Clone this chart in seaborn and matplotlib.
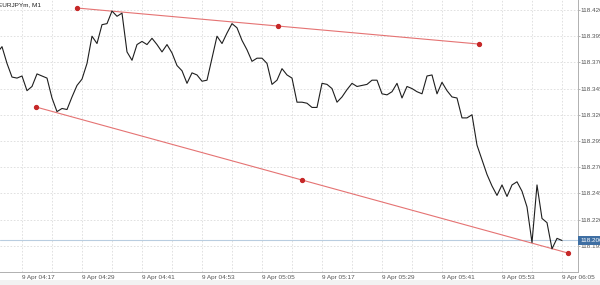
import matplotlib
matplotlib.use("Agg")
import matplotlib.pyplot as plt
import seaborn as sns
import pandas as pd
from matplotlib.patches import Rectangle

# ---------------- data ----------------
symbol_title = "EURJPYm, M1"
start_minute = 12  # minutes after 04:00 of first close (04:12)
close_prices = [
    118.379, 118.385, 118.369, 118.356, 118.355, 118.357, 118.343, 118.347, 118.359, 118.357,
    118.355, 118.336, 118.323, 118.326, 118.325, 118.337, 118.348, 118.354, 118.369, 118.395,
    118.388, 118.406, 118.407, 118.419, 118.414, 118.417, 118.380, 118.372, 118.387, 118.390,
    118.387, 118.393, 118.387, 118.380, 118.387, 118.379, 118.367, 118.362, 118.350, 118.360,
    118.358, 118.352, 118.353, 118.374, 118.395, 118.388, 118.398, 118.407, 118.403, 118.391,
    118.382, 118.371, 118.374, 118.374, 118.369, 118.349, 118.353, 118.364, 118.358, 118.355,
    118.332, 118.332, 118.331, 118.327, 118.327, 118.350, 118.349, 118.345, 118.332, 118.337,
    118.344, 118.350, 118.347, 118.348, 118.349, 118.353, 118.353, 118.340, 118.339, 118.342,
    118.350, 118.336, 118.347, 118.345, 118.342, 118.340, 118.357, 118.358, 118.340, 118.351,
    118.343, 118.337, 118.336, 118.317, 118.317, 118.320, 118.291, 118.277, 118.263, 118.252,
    118.243, 118.253, 118.242, 118.253, 118.256, 118.247, 118.232, 118.198, 118.253, 118.221,
    118.217, 118.192, 118.202, 118.200,
]
current_price = 118.200

# trend lines (minutes after 04:00, price): start, middle, end anchors
upper_trend_minutes = [28.0, 68.2, 108.4]
upper_trend_prices = [118.4219, 118.4047, 118.3875]
lower_trend_minutes = [19.8, 73.0, 126.2]
lower_trend_prices = [118.3274, 118.2577, 118.1880]

x_tick_labels = ["9 Apr 04:17", "9 Apr 04:29", "9 Apr 04:41", "9 Apr 04:53", "9 Apr 05:05",
                 "9 Apr 05:17", "9 Apr 05:29", "9 Apr 05:41", "9 Apr 05:53", "9 Apr 06:05"]
price_ticks = [118.195, 118.220, 118.245, 118.270, 118.295, 118.320, 118.345, 118.370, 118.395, 118.420]

# ---------------- build ----------------
def to_minutes(lbl):
    hh, mm = lbl.split()[-1].split(":")
    return int(hh) * 60 + int(mm) - 240

df = pd.DataFrame({
    "minute": [start_minute + i for i in range(len(close_prices))],
    "close": close_prices,
})

sns.set_style("white")
plt.rcParams["font.family"] = ["Liberation Sans", "DejaVu Sans"]
FS = 4.6

W, H = 600, 285
fig = plt.figure(figsize=(W / 100, H / 100), dpi=100)
fig.patch.set_facecolor("white")
fig.patches.append(Rectangle((0, 0), 1, 5 / H, transform=fig.transFigure,
                             facecolor="#f2f2f2", edgecolor="none", zorder=0))

ax = fig.add_axes([0, 13 / H, 578 / W, 272 / H])
ax.set_facecolor("white")

# grid
label_pos = [to_minutes(s) for s in x_tick_labels]
grid_pos = []
for p in label_pos:
    grid_pos += [p, p + 6]
for g in grid_pos:
    ax.axvline(g, color="#dcdcdc", lw=0.6, ls=(0, (2, 2)), zorder=0)
for p in price_ticks:
    ax.axhline(p, color="#dcdcdc", lw=0.6, ls=(0, (2, 2)), zorder=0)

# current price line
ax.axhline(current_price, color="#b9cde0", lw=0.8, zorder=1)

# price series
sns.lineplot(data=df, x="minute", y="close", ax=ax, color="#1e1e1e", lw=0.8, zorder=3)

# trend lines
for tm, tp in [(upper_trend_minutes, upper_trend_prices), (lower_trend_minutes, lower_trend_prices)]:
    ax.plot(tm, tp, color="#e57373", lw=0.8, zorder=2)
    ax.plot(tm, tp, ls="none", marker="o", ms=2.8, color="#c62828", zorder=4)

ax.set_xlim(12.6, 128.2)
ax.set_ylim(118.16989, 118.42955)

ax.set_xticks(label_pos)
ax.set_xticklabels(x_tick_labels, fontsize=FS, color="#555555")
for t in ax.get_xticklabels():
    t.set_horizontalalignment("left")
ax.tick_params(axis="x", length=0, pad=2.5)

ax.yaxis.tick_right()
ax.set_yticks(price_ticks)
ax.set_yticklabels([f"{p:.3f}" for p in price_ticks], fontsize=FS, color="#555555")
ax.tick_params(axis="y", length=1.5, width=0.5, color="#999999", pad=0.6)

ax.set_xlabel("")
ax.set_ylabel("")
for s in ["top", "left"]:
    ax.spines[s].set_visible(False)
for s in ["right", "bottom"]:
    ax.spines[s].set_color("#b0b0b0")
    ax.spines[s].set_linewidth(0.7)

# current price tag on the price axis
ax.annotate(f"{current_price:.3f}", xy=(1.0, current_price), xycoords=("axes fraction", "data"),
            xytext=(1.5, 0), textcoords="offset points", fontsize=FS, color="white",
            va="center", ha="left", zorder=6, annotation_clip=False,
            bbox=dict(boxstyle="square,pad=0.25", facecolor="#3f6fa3", edgecolor="none"))

fig.text(-2 / W, 1 - 5 / H, symbol_title, fontsize=FS, color="#222222", ha="left", va="center")

fig.savefig("out.png", dpi=100)
